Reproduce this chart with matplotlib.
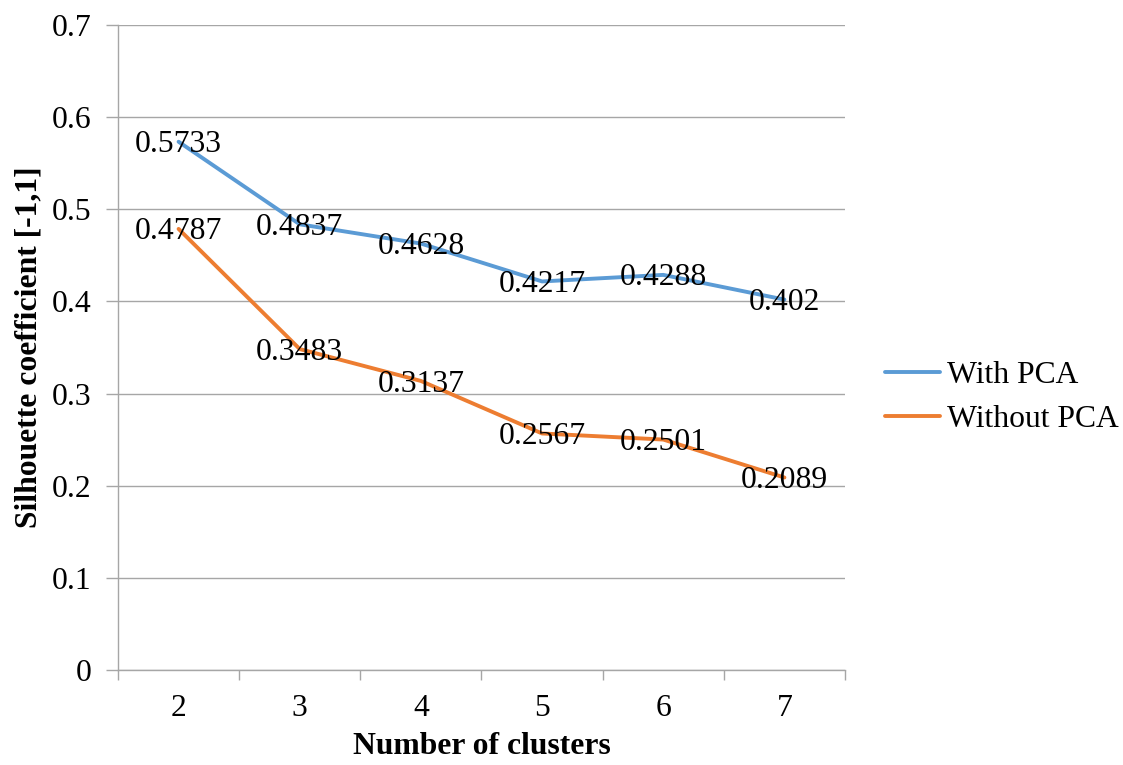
import matplotlib
matplotlib.use("Agg")
import matplotlib.pyplot as plt
import numpy as np

clusters = ["2", "3", "4", "5", "6", "7"]
with_pca = [0.5733, 0.4837, 0.4628, 0.4217, 0.4288, 0.402]
without_pca = [0.4787, 0.3483, 0.3137, 0.2567, 0.2501, 0.2089]
with_labels = ["0.5733", "0.4837", "0.4628", "0.4217", "0.4288", "0.402"]
without_labels = ["0.4787", "0.3483", "0.3137", "0.2567", "0.2501", "0.2089"]
y_ticks = [0, 0.1, 0.2, 0.3, 0.4, 0.5, 0.6, 0.7]

plt.rcParams["font.family"] = ["Liberation Serif", "DejaVu Serif"]
FS = 22.8
GRID = "#A6A6A6"
BLUE = "#5B9BD5"
ORANGE = "#ED7D31"

fig = plt.figure(figsize=(11.23, 7.65), dpi=100)
ax = fig.add_axes([118 / 1123, 1 - 670 / 765, (845 - 118) / 1123, (670 - 25) / 765])

x = np.arange(len(clusters))
ax.plot(x, with_pca, color=BLUE, lw=2.8, label="With PCA", zorder=3, solid_capstyle="round")
ax.plot(x, without_pca, color=ORANGE, lw=2.8, label="Without PCA", zorder=3, solid_capstyle="round")

# value labels centred on each point (digit centre sits on the point)
for series, labels in ((with_pca, with_labels), (without_pca, without_labels)):
    for xi, v, t in zip(x, series, labels):
        ax.annotate(t, (xi, v), xytext=(0, -7.6), textcoords="offset points",
                    ha="center", va="baseline", fontsize=FS, zorder=4)

ax.set_xlim(-0.5, len(clusters) - 0.5)
ax.set_ylim(0, 0.7)
ax.set_yticks(y_ticks)
ax.set_yticklabels([f"{t:g}" for t in y_ticks], fontsize=FS)
ax.yaxis.grid(True, color=GRID, lw=1.0)
ax.set_axisbelow(True)

ax.set_xticks(x)
ax.set_xticklabels(clusters, fontsize=FS)
ax.set_xticks(np.arange(-0.5, len(clusters)), minor=True)
ax.tick_params(axis="x", which="major", length=0, pad=17)
ax.tick_params(axis="x", which="minor", length=7, color=GRID, width=1.0)
ax.tick_params(axis="y", length=9, color=GRID, width=1.0, pad=10)

for s in ["top", "right"]:
    ax.spines[s].set_visible(False)
for s in ["left", "bottom"]:
    ax.spines[s].set_color(GRID)
    ax.spines[s].set_linewidth(1.0)

ax.set_xlabel("Number of clusters", fontsize=FS, fontweight="bold", labelpad=7)
ax.set_ylabel("Silhouette coefficient [-1,1]", fontsize=FS, fontweight="bold", labelpad=6)

leg = fig.legend(loc="center left", bbox_to_anchor=(885 / 1123, 1 - 397.5 / 765),
                 frameon=False, fontsize=FS, handlelength=1.75, handletextpad=0.2,
                 labelspacing=0.45, borderpad=0, borderaxespad=0)

fig.savefig("out.png", dpi=100, facecolor="white")
